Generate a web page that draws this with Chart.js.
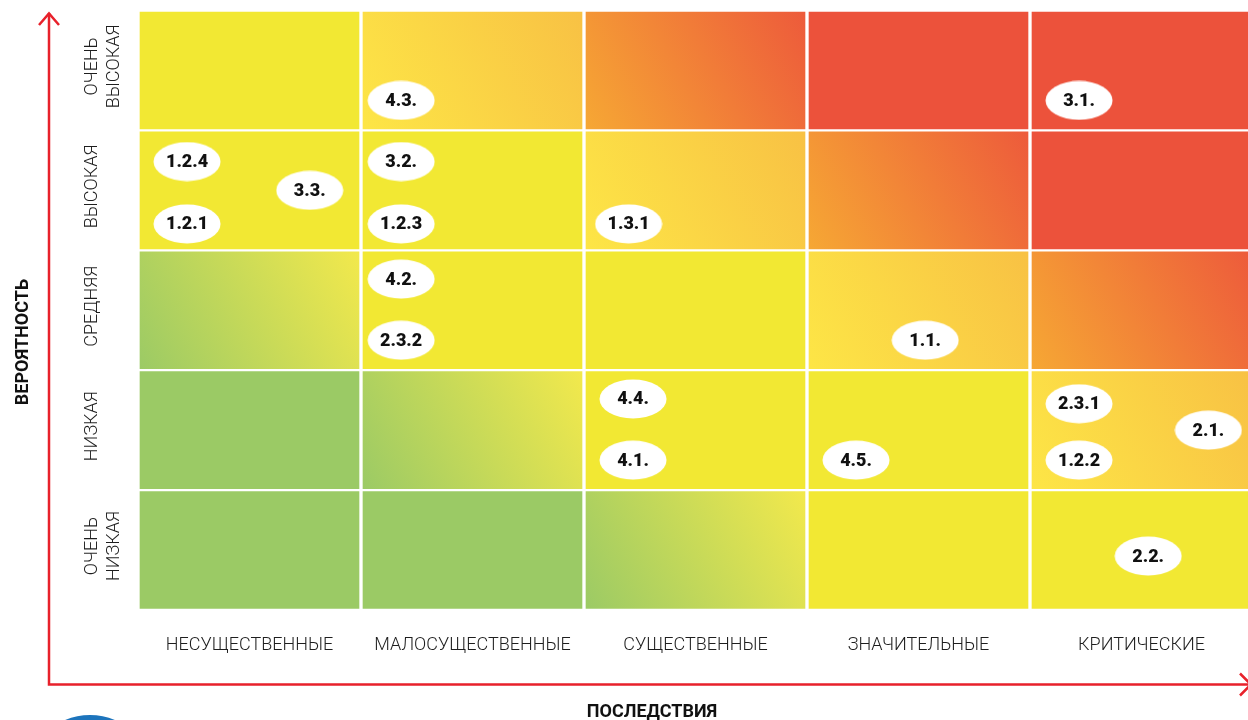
<!DOCTYPE html>
<html><head><meta charset="utf-8">
<script src="https://cdn.jsdelivr.net/npm/chart.js@4.4.1/dist/chart.umd.min.js"></script>
<style>
html,body{margin:0;padding:0;background:#fff;overflow:hidden;width:1248px;height:720px}
#wrap{position:absolute;left:0;top:0;width:1256px;height:720px}
</style>
</head><body><div id="wrap"><canvas id="c" width="1256" height="720" style="width:1256px;height:720px"></canvas></div>
<script>
// ---- data ----
const consequenceLabels = ['НЕСУЩЕСТВЕННЫЕ', 'МАЛОСУЩЕСТВЕННЫЕ', 'СУЩЕСТВЕННЫЕ', 'ЗНАЧИТЕЛЬНЫЕ', 'КРИТИЧЕСКИЕ'];
// bottom → top
const likelihoodLabels = [['ОЧЕНЬ', 'НИЗКАЯ'], ['НИЗКАЯ'], ['СРЕДНЯЯ'], ['ВЫСОКАЯ'], ['ОЧЕНЬ', 'ВЫСОКАЯ']];
const xTitle = 'ПОСЛЕДСТВИЯ';
const yTitle = 'ВЕРОЯТНОСТЬ';
// risk level per cell (0 green … 5 red), one array per likelihood row
const riskLevelVeryLow  = [0, 0, 1, 2, 2];
const riskLevelLow      = [0, 1, 2, 2, 3];
const riskLevelMedium   = [1, 2, 2, 3, 4];
const riskLevelHigh     = [2, 2, 3, 4, 5];
const riskLevelVeryHigh = [2, 3, 4, 5, 5];
// risk markers
const riskIds         = ['4.3.', '3.1.', '1.2.4', '1.2.1', '3.3.', '3.2.', '1.2.3', '1.3.1', '4.2.', '2.3.2', '1.1.', '4.4.', '4.1.', '4.5.', '2.3.1', '1.2.2', '2.1.', '2.2.'];
const riskConsequence = [1.18, 4.22, 0.22, 0.22, 0.77, 1.18, 1.18, 2.20, 1.18, 1.18, 3.53, 2.22, 2.22, 3.22, 4.22, 4.22, 4.80, 4.53];
const riskLikelihood  = [4.25, 4.25, 3.74, 3.22, 3.50, 3.74, 3.22, 3.22, 2.76, 2.25, 2.25, 1.76, 1.25, 1.25, 1.72, 1.25, 1.50, 0.45];

// ---- styles ----
const levelFills = [
  '#9BCA65',
  ['#9BCA65', '#F3E94C'],
  '#F2E833',
  ['#FDE646', '#F8C144'],
  ['#F6A834', '#ED5A3B'],
  '#EC523B'
];
const rowsLevels = [riskLevelVeryLow, riskLevelLow, riskLevelMedium, riskLevelHigh, riskLevelVeryHigh];
const RED = '#E8212B';
const FONT = 'Roboto, "Noto Sans", sans-serif';

function cellFill(ctx) {
  const chart = ctx.chart;
  const row = ctx.datasetIndex - 1;
  const col = ctx.dataIndex;
  const f = levelFills[rowsLevels[row][col]];
  if (typeof f === 'string') return f;
  const area = chart.chartArea;
  if (!area) return f[0];
  const xs = chart.scales.x, ys = chart.scales.y;
  const w = area.width / consequenceLabels.length;
  const xc = xs.getPixelForValue(col);
  const x0 = xc - w / 2, x1 = xc + w / 2;
  const yb = ys.getPixelForValue(row), yt = ys.getPixelForValue(row + 1);
  const g = chart.ctx.createLinearGradient(x0, yb, x1, yt);
  g.addColorStop(0, f[0]);
  g.addColorStop(1, f[1]);
  return g;
}

// ellipse marker image
const ell = document.createElement('canvas');
ell.width = 68; ell.height = 40;
{
  const c = ell.getContext('2d');
  c.fillStyle = '#fff';
  c.beginPath();
  c.ellipse(34, 20, 33.5, 19.5, 0, 0, Math.PI * 2);
  c.fill();
}

const datasets = [{
  type: 'scatter',
  xAxisID: 'xp', yAxisID: 'y',
  data: riskIds.map((id, i) => ({x: riskConsequence[i], y: riskLikelihood[i]})),
  pointStyle: ell,
  pointRadius: 20,
  order: 0
}];
rowsLevels.forEach((lv, r) => {
  datasets.push({
    type: 'bar',
    xAxisID: 'x', yAxisID: 'y',
    data: lv.map(() => [r, r + 1]),
    backgroundColor: cellFill,
    borderColor: '#ffffff',
    borderWidth: {top: 1.5, bottom: 1.5, left: 2, right: 2},
    borderSkipped: false,
    grouped: false,
    barPercentage: 1,
    categoryPercentage: 1,
    order: 1
  });
});

const decor = {
  id: 'decor',
  beforeDraw(chart) {
    const c = chart.ctx, a = chart.chartArea;
    c.save();
    // blue circle bottom-left
    c.fillStyle = '#1C74BC';
    c.beginPath(); c.arc(90, 780, 65, 0, Math.PI * 2); c.fill();
    // axes arrows
    const ax = a.left - 89, ay = a.bottom + 74.5;
    c.strokeStyle = RED; c.lineWidth = 2.5; c.lineCap = 'butt';
    c.beginPath();
    c.moveTo(ax, 13); c.lineTo(ax, ay); c.lineTo(1251, ay);
    c.stroke();
    c.beginPath();
    c.moveTo(ax - 10, 25); c.lineTo(ax, 13.5); c.lineTo(ax + 10, 25);
    c.moveTo(1240, ay - 11); c.lineTo(1251, ay); c.lineTo(1240, ay + 11);
    c.stroke();
    c.restore();
  },
  afterDraw(chart) {
    const c = chart.ctx, a = chart.chartArea, ys = chart.scales.y;
    c.save();
    // likelihood labels (rotated)
    c.fillStyle = '#1e1e1e';
    c.font = '300 18px ' + FONT;
    c.textAlign = 'center'; c.textBaseline = 'middle';
    likelihoodLabels.forEach((lines, i) => {
      const y = ys.getPixelForValue(i + 0.5) - 4;
      lines.forEach((t, k) => {
        c.save();
        c.translate(92 + k * 22, y);
        c.rotate(-Math.PI / 2);
        c.fillText(t, 0, 0);
        c.restore();
      });
    });
    // titles
    c.fillStyle = '#111';
    c.font = 'bold 18px ' + FONT;
    c.save(); c.translate(23, 342); c.rotate(-Math.PI / 2); c.fillText(yTitle, 0, 0); c.restore();
    c.fillText(xTitle, 652, 712);
    c.restore();
  },
  afterDatasetsDraw(chart) {
    const c = chart.ctx;
    const meta = chart.getDatasetMeta(0);
    c.save();
    c.fillStyle = '#111';
    c.font = '900 18px ' + FONT;
    c.textAlign = 'center'; c.textBaseline = 'middle';
    meta.data.forEach((p, i) => c.fillText(riskIds[i], p.x, p.y + 1));
    c.restore();
  }
};

new Chart(document.getElementById('c'), {
  data: {labels: consequenceLabels, datasets},
  options: {
    responsive: false,
    animation: false,
    events: [],
    layout: {autoPadding: false, padding: {left: 138, right: 3, top: 10.5, bottom: 0}},
    plugins: {legend: {display: false}, tooltip: {enabled: false}},
    scales: {
      x: {
        type: 'category', offset: true,
        grid: {display: false}, border: {display: false},
        ticks: {font: {family: FONT, size: 18, weight: '300'}, color: '#1e1e1e', padding: 17, maxRotation: 0, autoSkip: false},
        afterFit(s) { s.height = 110; }
      },
      xp: {type: 'linear', min: 0, max: 5, display: false},
      y: {type: 'linear', min: 0, max: 5, display: false}
    }
  },
  plugins: [decor]
});
</script></body></html>
